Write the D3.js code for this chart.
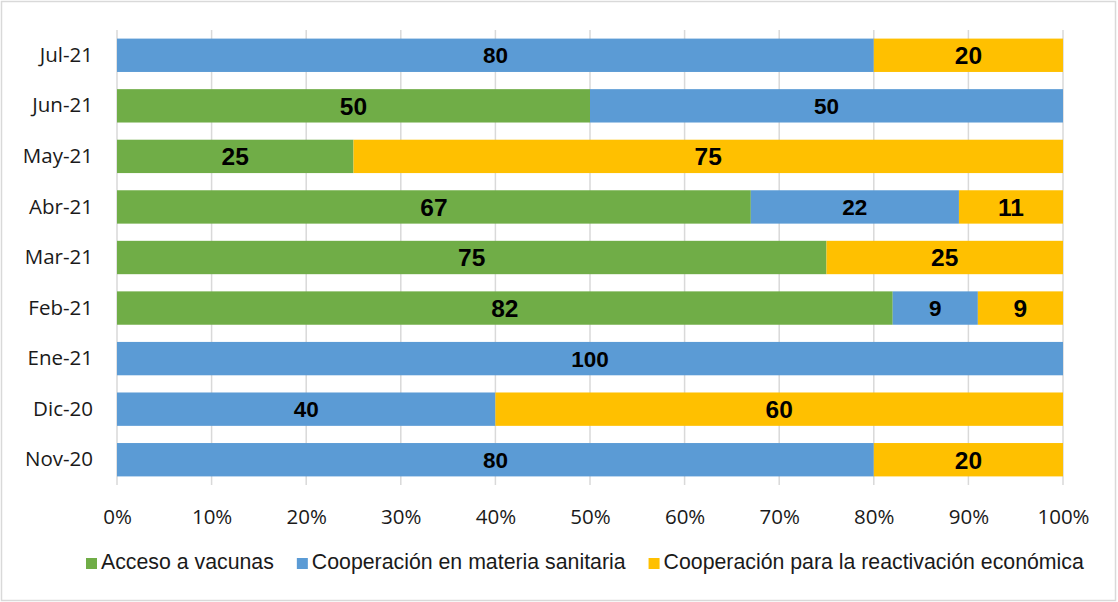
<!DOCTYPE html>
<html>
<head>
<meta charset="utf-8">
<script src="https://cdn.jsdelivr.net/npm/d3@7"></script>
<style>
  body { margin: 0; background: #ffffff; }
  .tick-label { font-family: "Open Sans", sans-serif; font-size: 20.5px; fill: #1a1a1a; }
  .legend-text { font-family: "Liberation Sans", Arial, sans-serif; font-size: 21.3px; fill: #1a1a1a; }
  .value-label { font-family: "Liberation Sans", Arial, sans-serif; font-weight: bold; fill: #000; }
</style>
</head>
<body>
<div id="chart"></div>
<script>
// Data (top to bottom as in the chart)
let months = ["Jul-21", "Jun-21", "May-21", "Abr-21", "Mar-21", "Feb-21", "Ene-21", "Dic-20", "Nov-20"];
let vacunas     = [0, 50, 25, 67, 75, 82, 0, 0, 0];
let sanitaria   = [80, 50, 0, 22, 0, 9, 100, 40, 80];
let reactivacion = [20, 0, 75, 11, 25, 9, 0, 60, 20];

let seriesNames = ["Acceso a vacunas", "Cooperación en materia sanitaria", "Cooperación para la reactivación económica"];
let seriesColors = ["#70AD47", "#5B9BD5", "#FFC000"];
let xTicks = [0, 0.1, 0.2, 0.3, 0.4, 0.5, 0.6, 0.7, 0.8, 0.9, 1];

let svgWidth = 1118;
let svgHeight = 602;

let margin = { top: 30, right: 55, bottom: 117, left: 117 };
let width = svgWidth - margin.left - margin.right;
let height = svgHeight - margin.top - margin.bottom;

let svg = d3.select("#chart")
  .append("svg")
  .attr("width", svgWidth)
  .attr("height", svgHeight);

// outer frame
svg.append("rect")
  .attr("x", 1.5)
  .attr("y", 1.5)
  .attr("width", svgWidth - 4)
  .attr("height", svgHeight - 3)
  .attr("fill", "#fff")
  .attr("stroke", "#d9d9d9")
  .attr("stroke-width", 1.5);

let chartGroup = svg.append("g")
  .attr("transform", `translate(${margin.left}, ${margin.top})`);

// build table for the stack
let keys = ["vacunas", "sanitaria", "reactivacion"];
let table = months.map((m, i) => ({
  month: m,
  vacunas: vacunas[i],
  sanitaria: sanitaria[i],
  reactivacion: reactivacion[i]
}));

let stacked = d3.stack()
  .keys(keys)
  .offset(d3.stackOffsetExpand)(table);

let xScale = d3.scaleLinear().domain([0, 1]).range([0, width]);
let yScale = d3.scaleBand()
  .domain(months)
  .range([0, height])
  .paddingInner(0.34)
  .paddingOuter(0.17);

// gridlines
chartGroup.append("g")
  .selectAll("line")
  .data(xTicks)
  .enter()
  .append("line")
  .attr("x1", d => xScale(d))
  .attr("x2", d => xScale(d))
  .attr("y1", 0)
  .attr("y2", height)
  .attr("stroke", "#d9d9d9")
  .attr("stroke-width", 1.5);

// bars
let layers = chartGroup.append("g")
  .selectAll("g")
  .data(stacked)
  .enter()
  .append("g")
  .attr("fill", (d, i) => seriesColors[i]);

layers.selectAll("rect")
  .data(d => d)
  .enter()
  .append("rect")
  .attr("x", d => xScale(d[0]))
  .attr("y", d => yScale(d.data.month))
  .attr("width", d => xScale(d[1]) - xScale(d[0]))
  .attr("height", yScale.bandwidth());

// value labels (blue series a bit smaller, as in the original)
stacked.forEach(function(layer, i) {
  chartGroup.append("g")
    .selectAll("text")
    .data(layer.filter(d => d.data[keys[i]] > 0))
    .enter()
    .append("text")
    .classed("value-label", true)
    .style("font-size", i === 1 ? "22.5px" : "24.5px")
    .attr("text-anchor", "middle")
    .attr("x", d => (xScale(d[0]) + xScale(d[1])) / 2)
    .attr("y", d => yScale(d.data.month) + yScale.bandwidth() / 2)
    .attr("dy", "0.36em")
    .text(d => d.data[keys[i]]);
});

// x axis labels
let xAxis = d3.axisBottom(xScale)
  .tickValues(xTicks)
  .tickFormat(d3.format(".0%"))
  .tickSize(0)
  .tickPadding(0);

let xAxisGroup = chartGroup.append("g")
  .attr("transform", `translate(0, ${height})`)
  .call(xAxis);
xAxisGroup.select(".domain").remove();
xAxisGroup.selectAll("text")
  .attr("class", "tick-label")
  .attr("y", 32)
  .attr("dy", "0.35em");

// y axis labels
let yAxis = d3.axisLeft(yScale).tickSize(0).tickPadding(24);
let yAxisGroup = chartGroup.append("g").call(yAxis);
yAxisGroup.select(".domain").remove();
yAxisGroup.selectAll("text")
  .attr("class", "tick-label");
yAxisGroup.attr("font-size", null).attr("font-family", null);
xAxisGroup.attr("font-size", null).attr("font-family", null);

// legend
let legend = svg.append("g").attr("transform", "translate(86, 558)");
let legendX = 0;
seriesNames.forEach(function(name, i) {
  let item = legend.append("g").attr("transform", `translate(${legendX}, 0)`);
  item.append("rect")
    .attr("width", 11)
    .attr("height", 11)
    .attr("fill", seriesColors[i]);
  let label = item.append("text")
    .classed("legend-text", true)
    .attr("x", 15)
    .attr("y", 11)
    .text(name);
  legendX += 15 + label.node().getComputedTextLength() + 23;
});
</script>
</body>
</html>
